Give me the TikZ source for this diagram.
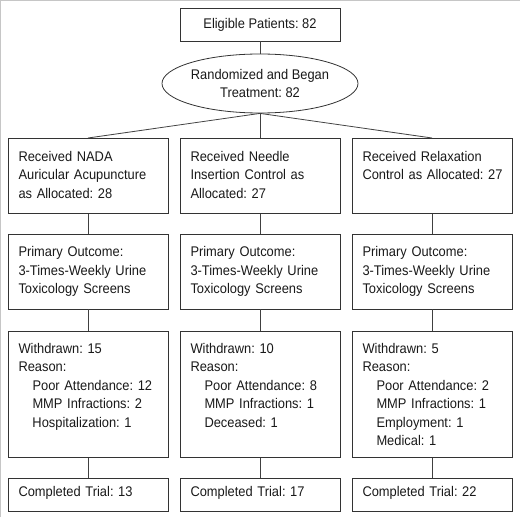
\documentclass[tikz,border=0pt]{standalone}
\usepackage{fontspec}
\setmainfont{Liberation Sans}[FakeStretch=0.92]
\usetikzlibrary{shapes.geometric}
\begin{document}
\frenchspacing
\begin{tikzpicture}[x=1pt,y=-1pt,
  every node/.style={font=\fontsize{14}{18.4}\selectfont\frenchspacing, text=black!90},
  cell/.style={draw=black!80, line width=0.8pt, anchor=north, text width=139pt, align=left, inner xsep=10.5pt, inner ysep=0pt, text height=23pt},
  link/.style={draw=black!75, line width=0.8pt}]
%\draw[help lines, thick,gray,step=20] (0,0) grid (520,519);
\useasboundingbox (0,0) rectangle (520,519);
\draw[gray!45, line width=1.2pt] (0.6,517) -- (0.6,0.6) -- (520,0.6);
\node[draw=black!80, line width=0.8pt, minimum width=160pt, minimum height=33pt, inner sep=0pt] (elig) at (260,24.5) {Eligible Patients: 82};
\node[draw=black!80, line width=0.8pt, ellipse, minimum width=196pt, minimum height=59pt, inner sep=0pt, align=center] (rand) at (260,83.5) {Randomized and Began\\Treatment: 82};
\node[cell, text depth=52pt] (recA) at (88,138) {Received NADA\\Auricular Acupuncture\\as Allocated: 28};
\node[cell, text depth=52pt] (recB) at (260,138) {Received Needle\\Insertion Control as\\Allocated: 27};
\node[cell, text depth=52pt] (recC) at (432,138) {Received Relaxation\\\mbox{Control as Allocated: 27}};
\node[cell, text depth=52pt, text height=22.5pt] (primA) at (88,234) {Primary Outcome:\\3-Times-Weekly Urine\\Toxicology Screens};
\node[cell, text depth=52pt, text height=22.5pt] (primB) at (260,234) {Primary Outcome:\\3-Times-Weekly Urine\\Toxicology Screens};
\node[cell, text depth=52pt, text height=22.5pt] (primC) at (432,234) {Primary Outcome:\\3-Times-Weekly Urine\\Toxicology Screens};
\node[cell, text height=22pt, text depth=104pt] (wdA) at (88,331) {Withdrawn: 15\\Reason:\\\hspace*{14pt}Poor Attendance: 12\\\hspace*{14pt}MMP Infractions: 2\\\hspace*{14pt}Hospitalization: 1};
\node[cell, text height=22pt, text depth=104pt] (wdB) at (260,331) {Withdrawn: 10\\Reason:\\\hspace*{14pt}Poor Attendance: 8\\\hspace*{14pt}MMP Infractions: 1\\\hspace*{14pt}Deceased: 1};
\node[cell, text height=22pt, text depth=104pt] (wdC) at (432,331) {Withdrawn: 5\\Reason:\\\hspace*{14pt}Poor Attendance: 2\\\hspace*{14pt}MMP Infractions: 1\\\hspace*{14pt}Employment: 1\\\hspace*{14pt}Medical: 1};
\node[cell, text height=18pt, text depth=15pt] (compA) at (88,478) {Completed Trial: 13};
\node[cell, text height=18pt, text depth=15pt] (compB) at (260,478) {Completed Trial: 17};
\node[cell, text height=18pt, text depth=15pt] (compC) at (432,478) {Completed Trial: 22};
\draw[link] (elig) -- (rand);
\foreach \c in {A,B,C} {
  \draw[link] (rand.south) -- (rec\c.north);
  \draw[link] (rec\c) -- (prim\c);
  \draw[link] (prim\c) -- (wd\c);
  \draw[link] (wd\c) -- (comp\c);
}
\end{tikzpicture}
\end{document}
